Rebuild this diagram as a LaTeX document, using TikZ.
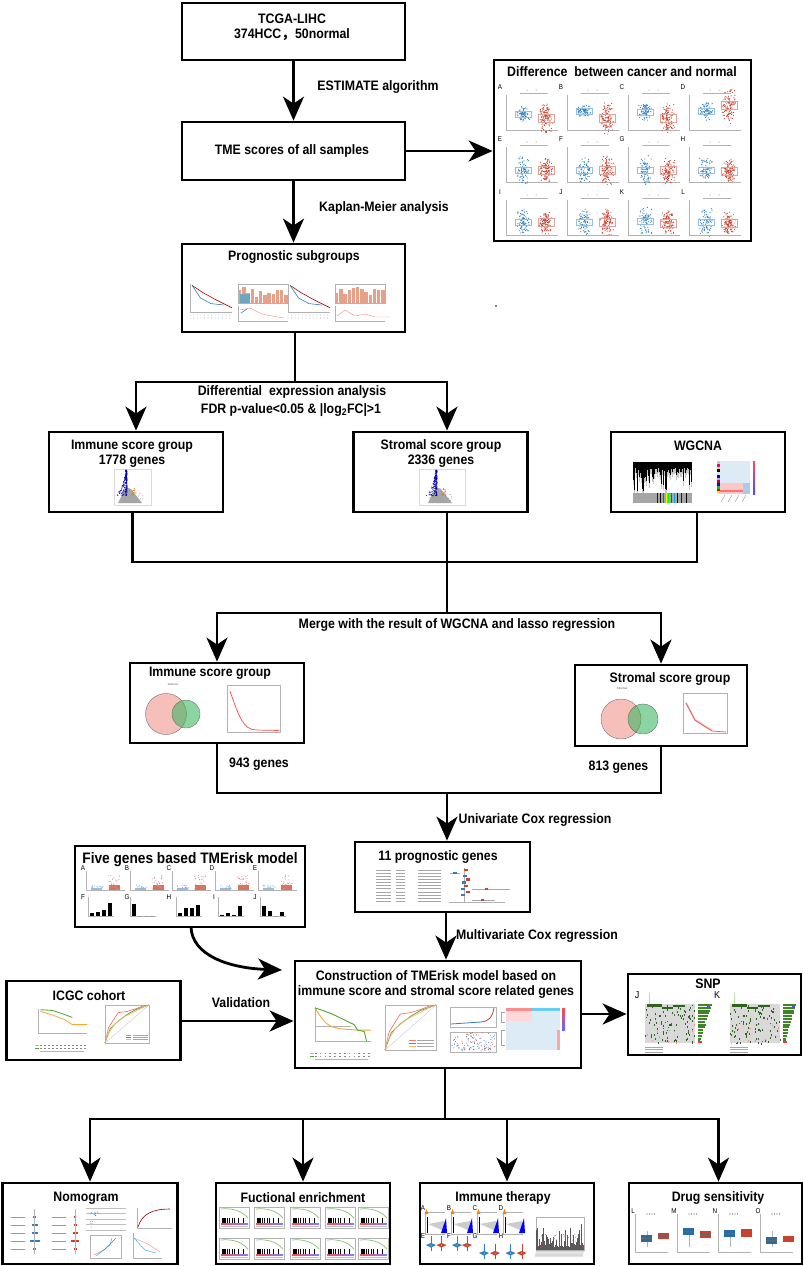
\documentclass[tikz,border=0pt]{standalone}
\usepackage{fontspec}
\setmainfont{Liberation Sans}[FakeStretch=.9]
\newfontfamily\cjkfont{Noto Sans CJK SC}
\usetikzlibrary{arrows.meta}
\definecolor{plotblue}{HTML}{2F7FC1}
\definecolor{plotred}{HTML}{C8432F}
\definecolor{kmgreen}{HTML}{4EA72E}
\definecolor{kmorange}{HTML}{F2A93B}
\definecolor{vennpink}{HTML}{F08C80}
\definecolor{venngreen}{HTML}{2FB457}
\definecolor{heatblue}{HTML}{DDEBF7}
\definecolor{heatmid}{HTML}{A9CCEB}
\tikzset{
flowbox/.style={draw, line width=2.8pt, fill=white, inner sep=0pt}, % every framed box
titletext/.style={font=\bfseries\fontsize{13.7}{14}\selectfont, inner sep=0pt, align=center},
paneltext/.style={font=\fontsize{7}{7}\selectfont, inner sep=0pt},
bigpaneltext/.style={font=\fontsize{10}{10}\selectfont, inner sep=0pt},
tinytext/.style={font=\bfseries\fontsize{3}{3}\selectfont, inner sep=0pt, text=gray},
plainline/.style={line width=2.8pt},
flowline/.style={line width=2.8pt, -{Stealth[length=24pt,width=21pt,inset=7pt]}},
axisline/.style={draw=gray!60, line width=.3pt},
}
%% small clouds of points, x and y spread around a centre
\newcommand{\dotcloud}[6]{\foreach \k in {1,...,#5}{\fill[#6] ({#1+#3*rand},{#2+#4*rand}) circle (.5);}}
%% denser towards the centre, for the scatter panels
\newcommand{\densecloud}[6]{\foreach \k in {1,...,#5}{\fill[#6] ({#1+#3*(rand+rand)*.6},{#2+#4*(rand+rand)*.6}) circle (.6);}}
%% one scatter and box panel of the cancer/normal figure
\newcommand{\scatterpanel}[6]{
    \draw[axisline] (#1+6,#2+8) |- (#1+58,#2+43);
    \draw[axisline] (#1+20,#2+6) -- (#1+48,#2+6);
    \fill[plotblue] (#1+27,#2+3) circle (.5);
    \fill[plotred] (#1+36,#2+3) circle (.5);
    \densecloud{#1+23}{#2+#3}{6}{#4}{80}{plotblue}
    \densecloud{#1+46}{#2+#5}{6}{#6}{110}{plotred}
    \draw[plotblue!50, line width=.3pt] (#1+15,#2+#3-3) rectangle (#1+31,#2+#3+3);
    \draw[plotred!50, line width=.3pt] (#1+38,#2+#5-4) rectangle (#1+54,#2+#5+4);
}
%% volcano plot
\newcommand{\volcano}[2]{
    \fill[gray!70] (#1+10,#2+18) -- (#1+15,#2+20) -- (#1+26,#2+34) -- (#1+2,#2+34) -- cycle;
    \dotcloud{#1+15}{#2+29}{12}{5}{40}{gray!70}
    \dotcloud{#1+18}{#2+23}{2}{4}{14}{orange!80!red}
    \foreach \k in {1,...,190}{
        \pgfmathsetmacro\tt{rnd}
        \pgfmathsetmacro\uu{rnd}
        \fill[blue!70!black] ({#1+11-1.5*\uu-10*\tt*\tt*\uu*\uu},{#2+1+26*\tt}) circle (.5);
    }
}
%% Kaplan-Meier curves in a unit square
\newcommand{\kmplot}[4]{
    \begin{scope}[shift={(#1,#2)}, xscale=#3, yscale=#4]
        \draw[axisline] (0,0) |- (1,1);
        \draw[axisline] (0,.55) -- (.65,.55);
        \draw[kmorange, line width=.9pt] (0,.03) -- (.1,.28) -- (.2,.48) -- (.3,.58) -- (.45,.64) -- (.6,.66) -- (.8,.68) -- (1,.68);
        \draw[kmgreen, line width=.9pt] (0,.03) -- (.1,.08) -- (.3,.2) -- (.45,.32) -- (.6,.44) -- (.7,.52) -- (.76,.68) -- (.88,.72) -- (.92,1);
    \end{scope}
}
%% the same, for the validation cohort
\newcommand{\kmplotflat}[4]{
    \begin{scope}[shift={(#1,#2)}, xscale=#3, yscale=#4]
        \draw[axisline] (0,0) |- (1,1);
        \draw[kmgreen, line width=.8pt] (.05,.03) -- (.3,.06) -- (.5,.2) -- (.7,.35);
        \draw[kmorange, line width=.8pt] (.05,.1) -- (.3,.25) -- (.55,.45) -- (.7,.65) -- (1,.65);
    \end{scope}
}
%% risk table under a survival plot
\newcommand{\risktable}[3]{
    \foreach \k in {0,...,11}{
        \fill[gray!90] (#1+\k*#3/11,#2) rectangle ++(1.6,1.4);
        \fill[gray!90] (#1+\k*#3/11,#2+3) rectangle ++(1.6,1.4);
    }
    \fill[kmorange] (#1-5,#2) rectangle ++(4,1.2);
    \fill[kmgreen] (#1-5,#2+3) rectangle ++(4,1.2);
    \draw[axisline] (#1,#2+6) -- (#1+#3,#2+6);
}
%% ROC curves in a unit square
\newcommand{\rocplot}[4]{
    \begin{scope}[shift={(#1,#2)}, xscale=#3, yscale=#4]
        \draw[axisline] (0,0) rectangle (1,1);
        \draw[gray!50, line width=.3pt] (0,1) -- (1,0);
        \draw[red!55, line width=.7pt] (0,1) -- (.08,.6) -- (.2,.38) -- (.3,.2) -- (.5,.17) -- (.7,.1) -- (.85,.03) -- (1,0);
        \draw[kmgreen, line width=.7pt] (0,1) -- (.12,.62) -- (.3,.42) -- (.5,.25) -- (.7,.12) -- (1,0);
        \draw[kmorange!80, line width=.7pt] (0,1) -- (.05,.8) -- (.22,.5) -- (.45,.3) -- (.6,.22) -- (.85,.07) -- (1,0);
        \draw[red!55, line width=.4pt] (.48,.79) -- (.6,.79);
        \draw[kmgreen, line width=.4pt] (.48,.85) -- (.6,.85);
        \draw[kmorange!80, line width=.4pt] (.48,.91) -- (.6,.91);
        \foreach \ly in {.79,.85,.91}{\draw[gray!70, line width=.3pt] (.63,\ly) -- (.97,\ly);}
    \end{scope}
}
%% one GSEA panel
\newcommand{\gseaplot}[2]{
    \draw[axisline] (#1,#2) rectangle (#1+30,#2+21);
    \draw[kmgreen!70, line width=.7pt] (#1+2,#2+2) .. controls (#1+12,#2+1) and (#1+22,#2+3) .. (#1+29,#2+11);
    \foreach \k in {3,4,5,6,8,10,13,15,19,24}{\draw[black, line width=.3pt] (#1+\k,#2+11) -- (#1+\k,#2+16);}
    \shade[left color=red!70, right color=blue!50] (#1+2,#2+16) rectangle (#1+29,#2+17.2);
    \draw[gray!50, line width=.2pt] (#1+2,#2+19) -- (#1+29,#2+19);
}
%% one running-score panel of the immune therapy figure
\newcommand{\therapyplot}[1]{
    \draw[axisline] (#1+22,1212) -- (#1+2,1212) |- (#1+22,1234);
    \fill[orange] (#1+3.5,1209) -- (#1+5.5,1214) -- (#1+1.5,1214) -- cycle;
    \fill[gray!40] (#1+5,1224) -- (#1+21,1221) -- (#1+21,1231) -- cycle;
    \fill[blue] (#1+23,1218) -- (#1+24,1233) -- (#1+18,1233) -- cycle;
    \draw[black, line width=.8pt] (#1+4,1217) -- (#1+4,1233);
}
%% one violin of the immune therapy figure
\newcommand{\violin}[3]{
    \draw[#3, line width=.4pt] (#1,#2-9) -- (#1,#2+6);
    \fill[#3] (#1-5,#2) -- (#1,#2-2) -- (#1+5,#2) -- (#1,#2+2.5) -- cycle;
    \fill[white] (#1,#2) circle (.5);
}
%% one pair of boxes of the drug sensitivity figure
\newcommand{\boxpair}[6]{
    \draw[axisline] (#1-6,#2-24) |- (#1+27,#2+14);
    \draw[axisline] (#1+6,#2-7) -- (#1+6,#2+9);
    \foreach \n in {0,...,3}{\fill[gray!70!black] (#1+6+\n*2.5,1214) circle (.6);}
    \fill[plotblue!85!black] (#1,#3) rectangle (#1+11,#3+7);
    \fill[plotred] (#1+#5,#4) rectangle (#1+#5+11,#4+#6);
    \draw[black!60, line width=.4pt] (#1,#3+3.5) -- (#1+11,#3+3.5);
    \draw[black!60, line width=.4pt] (#1+#5,#4+#6/2) -- (#1+#5+11,#4+#6/2);
}
%% one oncoplot with its side and top bars
\newcommand{\oncoplot}[3]{
    \fill[gray!30] (#1,#2) rectangle (#1+#3,#2+39);
    \draw[kmgreen!40, line width=.8pt] (#1+4,#2) -- (#1+4,#2-11);
    \fill[kmgreen!60!black] (#1+2,#2) rectangle (#1+#3/3,#2+2.5);
    \fill[kmgreen!60!black] (#1+#3/3,#2+3) rectangle (#1+#3*.55,#2+5);
    \fill[kmgreen!60!black] (#1+#3*.55,#2+1) rectangle (#1+#3*.8,#2+2.5);
    \foreach \k in {1,...,75}{\fill[kmgreen!60!black] ({#1+#3*rnd},{#2+39*rnd}) rectangle ++(.9,2);}
    \foreach \k in {1,...,16}{\fill[black!65] ({#1+#3*rnd},{#2+39*rnd}) rectangle ++(.8,1.6);}
    \foreach \k in {1,...,10}{\fill[red!45] ({#1+#3*rnd},{#2+20+19*rnd}) rectangle ++(.9,1.6);}
    \foreach \k in {0,...,13}{
        \pgfmathsetmacro\barlen{14-\k*.8-rnd*2}
        \fill[kmgreen!80!black] (#1+#3+3,#2+\k*2.8) rectangle ++(\barlen,2);
    }
    \fill[blue!70] (#1+#3+12,#2+2) rectangle ++(3,2);
    \fill[red!80] (#1+#3+3,#2+37) rectangle ++(4,2);
    \foreach \n in {0,1,2}{\draw[gray!70, line width=.5pt] (#1,#2+43+\n*2.5) -- (#1+#3*.35,#2+43+\n*2.5);}
}

\begin{document}
\begin{tikzpicture}[x=1pt, y=-1pt]
    \useasboundingbox (0,0) rectangle (803,1266);
    \pgfmathsetseed{11}

    %% The boxes. Corners were read off the reference, so every node sits at its centre.
    \node[flowbox, minimum width=223, minimum height=57] (tcga) at (293.5,31.5) {};
    \node[flowbox, minimum width=223, minimum height=58] (tme) at (293.5,151) {};
    \node[flowbox, minimum width=223, minimum height=88] (prog) at (293.5,288) {};
    \node[flowbox, minimum width=257, minimum height=181] (diff) at (622.5,150.5) {};
    \node[flowbox, minimum width=174, minimum height=80] (immune) at (136,472) {};
    \node[flowbox, minimum width=174, minimum height=80] (stromal) at (440.5,472) {};
    \node[flowbox, minimum width=174, minimum height=80] (wgcna) at (698,472) {};
    \node[flowbox, minimum width=174, minimum height=80] (immunesel) at (217,703) {};
    \node[flowbox, minimum width=172, minimum height=81] (stromalsel) at (661,705.5) {};
    \node[flowbox, minimum width=175, minimum height=70] (genes) at (442.5,877) {};
    \node[flowbox, minimum width=230, minimum height=81] (five) at (190,886.5) {};
    \node[flowbox, minimum width=286, minimum height=107] (construct) at (438,1014.5) {};
    \node[flowbox, minimum width=174, minimum height=79] (icgc) at (93.5,1020.5) {};
    \node[flowbox, minimum width=173, minimum height=81] (snp) at (714.5,1014.5) {};
    \node[flowbox, minimum width=175, minimum height=81] (nomo) at (90,1223.5) {};
    \node[flowbox, minimum width=174, minimum height=81] (func) at (303,1223.5) {};
    \node[flowbox, minimum width=174, minimum height=81] (therapy) at (507,1223.5) {};
    \node[flowbox, minimum width=173, minimum height=81] (drug) at (715.5,1223.5) {};

    %% The connectors. Bends and free ends are named coordinates.
    \coordinate (splitA) at (295,382);
    \coordinate (splitR) at (447,382);
    \coordinate (mergeL) at (132.5,562);
    \coordinate (mergeM) at (447,562);
    \coordinate (mergeR) at (697,562);
    \coordinate (splitB) at (447,613);
    \coordinate (joinC) at (447,793);
    \coordinate (coxline) at (446,936);
    \coordinate (curveS) at (191,927);
    \coordinate (curveE) at (282,970);
    \coordinate (validline) at (240,1021);
    \coordinate (snpline) at (600,1014);
    \coordinate (treeT) at (445,1119);
    \coordinate (treeD) at (718.5,1119);

    \draw[flowline] (tcga) -- (tme);
    \draw[flowline] (tme) -- (prog);
    \draw[flowline] (tme) -- (diff.west |- tme);
    \draw[plainline] (prog.south -| splitA) -- (splitA);
    \draw[flowline] (splitA) -| (immune.north);
    \draw[flowline] (splitA) -- (splitR) -- (stromal.north -| splitR);
    \draw[plainline] (immune.south -| mergeL) -- (mergeL) -- (mergeR) -- (wgcna.south -| mergeR);
    \draw[plainline] (stromal.south -| mergeM) -- (splitB);
    \draw[flowline] (splitB) -| (immunesel.north);
    \draw[flowline] (splitB) -| (stromalsel.north);
    \draw[plainline] (immunesel.south) |- (joinC) -| (stromalsel.south);
    \draw[flowline] (joinC) -- (genes.north -| joinC);
    \draw[flowline] (genes.south -| coxline) -- (construct.north -| coxline);
    \draw[flowline] (curveS) .. controls (192,955) and (228,968) .. (curveE);
    \draw[flowline] (icgc.east |- validline) -- (construct.west |- validline);
    \draw[flowline] (construct.east |- snpline) -- (snp.west |- snpline);
    \draw[plainline] (construct.south -| treeT) -- (treeT);
    \draw[flowline] (treeT) -| (nomo.north);
    \draw[flowline] (treeT) -| (func.north);
    \draw[flowline] (treeT) -| (therapy.north);
    \draw[flowline] (treeT) -- (treeD) -- (drug.north -| treeD);

    %% The texts
    \node[titletext] (tcgatitle) at (292,27.5) {TCGA-LIHC\\[1pt]374HCC{\cjkfont ，}50normal};
    \node[titletext] (estimatelabel) at (378,87) {ESTIMATE algorithm};
    \node[titletext] (tmetitle) at (292,151) {TME scores of all samples};
    \node[titletext] (kmlabel) at (384,208) {Kaplan-Meier analysis};
    \node[titletext] (progtitle) at (294,257) {Prognostic subgroups};
    \node[titletext] (difftitle) at (622,72) {Difference\ \ between cancer and normal};
    \node[titletext] (deglabel) at (292,392) {Differential\ \ expression analysis};
    \node[titletext] (fdrlabel) at (291,410) {FDR p-value<0.05 \& |log\textsubscript{2}FC|>1};
    \node[titletext] (immunetitle) at (132,453.5) {Immune score group\\[1pt]1778 genes};
    \node[titletext] (stromaltitle) at (441,453.5) {Stromal score group\\[1pt]2336 genes};
    \node[titletext] (wgcnatitle) at (698,446) {WGCNA};
    \node[titletext] (mergelabel) at (457,625) {Merge with the result of WGCNA and lasso regression};
    \node[titletext] (immuneseltitle) at (210,673) {Immune score group};
    \node[titletext] (stromalseltitle) at (670,679) {Stromal score group};
    \node[titletext] (immunecount) at (259,764) {943 genes};
    \node[titletext] (stromalcount) at (618.5,767) {813 genes};
    \node[titletext] (unilabel) at (535,820) {Univariate Cox regression};
    \node[titletext, font=\bfseries\fontsize{15.2}{16}\selectfont] (fivetitle) at (190,860) {Five genes based TMErisk model};
    \node[titletext] (genestitle) at (438,857) {11 prognostic genes};
    \node[titletext] (multilabel) at (537,936) {Multivariate Cox regression};
    \node[titletext] (constructtitle) at (436,984.5) {Construction of TMErisk model based on\\[1pt]immune score and stromal score related genes};
    \node[titletext] (icgctitle) at (89,996) {ICGC cohort};
    \node[titletext] (validlabel) at (241,1003) {Validation};
    \node[titletext] (snptitle) at (708,984) {SNP};
    \node[titletext] (nomotitle) at (86,1198) {Nomogram};
    \node[titletext] (functitle) at (303,1198) {Fuctional enrichment};
    \node[titletext] (therapytitle) at (503,1198) {Immune therapy};
    \node[titletext] (drugtitle) at (718,1198) {Drug sensitivity};
    \fill (496,306) circle (.9);

    %% Prognostic subgroups: two survival plots with their bar and line panels
    \foreach \px/\bx in {190/238, 288/335}{
        \begin{scope}[shift={(\px,284)}, xscale=42, yscale=28]
            \draw[axisline] (0,0) |- (1,1);
            \draw[red!70!black, line width=.6pt] (.05,.05) -- (.3,.3) -- (.6,.55) -- (1,.85);
            \draw[plotblue, line width=.6pt] (.05,.05) -- (.25,.5) -- (.5,.7) -- (.8,.75);
        \end{scope}
        \foreach \k in {0,...,11}{
            \fill[gray!60] (\px+\k*3.6,315) circle (.5);
            \fill[plotblue!60] (\px+\k*3.6,318) circle (.5);
            \pgfmathsetmacro\barh{6+rnd*11}
            \fill[red!35!brown!55] (\bx+\k*4.2,303) rectangle ++(3.4,-\barh);
        }
        \draw[axisline] (\bx,284) rectangle (\bx+50,303);
        \draw[axisline] (\bx,306) |- (\bx+50,321);
    }
    \draw[red!50, line width=.4pt] (240,310) -- (250,308) -- (262,314) -- (272,316) -- (284,318);
    \draw[cyan!60!blue, line width=.5pt] (241,313) -- (247,309);
    \draw[red!50, line width=.4pt] (337,316) -- (345,310) -- (355,316) -- (365,314) -- (375,317) -- (390,317);
    \fill[cyan!60!black!70] (240,303) rectangle (250,294);

    %% Difference between cancer and normal: 4 x 3 scatter panels
    \foreach \L/\px/\a/\b/\c/\d in {A/500/27/7/31/13, B/561/24/5/31/15, C/622/25/8/31/13, D/683/24/8/18/17}{
        \node[paneltext] (diff\L) at (\px,87) {\L};
        \scatterpanel{\px}{87}{\a}{\b}{\c}{\d}
    }
    \foreach \L/\px/\a/\b/\c/\d in {E/500/31/13/31/11, F/561/31/12/31/13, G/622/31/13/31/12, H/683/31/13/32/11}{
        \node[paneltext] (diff\L) at (\px,139) {\L};
        \scatterpanel{\px}{139}{\a}{\b}{\c}{\d}
    }
    \foreach \L/\px/\a/\b/\c/\d in {I/500/30/13/30/11, J/561/30/12/30/13, K/622/29/13/31/12, L/683/30/13/31/11}{
        \node[paneltext] (diff\L) at (\px,192) {\L};
        \scatterpanel{\px}{192}{\a}{\b}{\c}{\d}
    }

    %% Volcano plots
    \draw[gray!30, line width=.3pt] (114,469) rectangle (151,505);
    \volcano{116}{469}
    \draw[gray!30, line width=.3pt] (419,469) rectangle (465,505);
    \volcano{426}{469}

    %% WGCNA: dendrogram, module colours and heatmap
    \foreach \k in {0,...,58}{
        \pgfmathsetmacro\drop{6+rnd*rnd*24}
        \draw[gray!45, line width=.9pt] (633+\k,462) -- ++(0,{\drop+5});
        \draw[black, line width=.9pt] (633+\k,462) -- ++(0,\drop);
    }
    \fill[gray!70] (633,493) rectangle (692,503);
    \foreach \sx/\sc in {657/blue, 660/black, 663/magenta, 666/yellow, 668/green, 671/red, 674/cyan, 677/black, 681/blue, 686/black}{
        \fill[\sc] (\sx,493) rectangle ++(1.4,10);
    }
    \foreach \r/\rc in {0/gray!40, 1/magenta, 2/yellow, 3/black, 4/gray!20, 5/blue, 6/gray!60, 7/purple, 8/blue, 9/green!80!black, 10/red, 11/yellow}{
        \fill[\rc] (717,461+\r*2.75) rectangle ++(2.5,2.75);
    }
    \fill[heatblue] (720,461) rectangle (750,483);
    \fill[red!22] (720,483) rectangle (750,494);
    \fill[red!55] (720,489.5) rectangle (750,492);
    \fill[heatmid] (743,483) rectangle (750,494);
    \shade[top color=red!70, middle color=white, bottom color=blue!70] (753,461) rectangle (755,494);
    \foreach \k in {0,...,3}{\draw[gray, line width=.3pt] (725+\k*7,495) -- ++(-4,7);}

    %% Venn diagrams with the lasso curves. Low opacity so that the overlap shows.
    \begin{scope}[fill opacity=.55]
        \draw[fill=vennpink, draw=gray!70!black, line width=.3pt] (166,714) circle (20.5);
        \draw[fill=venngreen, draw=gray!70!black, line width=.3pt] (186,714) circle (14);
        \draw[fill=vennpink, draw=gray!70!black, line width=.3pt] (621,719) circle (20);
        \draw[fill=venngreen, draw=gray!70!black, line width=.3pt] (643,719) circle (15);
    \end{scope}
    \node[tinytext] (vennimmune) at (173,684) {Immune};
    \node[tinytext] (vennstromal) at (622,688) {Stromal};
    \draw[axisline] (227,685) rectangle (280,732);
    \draw[red!70, line width=.7pt] (230,691) .. controls (238,714) and (243,730) .. (256,730) -- (279,730.5);
    \draw[axisline] (683,693) rectangle (727,733);
    \draw[gray!30, line width=2pt] (686,703) -- (695,720) -- (712,730);
    \draw[red!70, line width=.7pt] (686,703) -- (695,720) -- (704,726) -- (712,731) -- (726,732);

    %% Five genes: expression dots and bars
    \foreach \L/\px in {A/83, B/127, C/169, D/212, E/255}{
        \node[paneltext] (five\L) at (\px,868) {\L};
        \draw[axisline] (\px+3,871) |- (\px+42,890);
        \fill[plotblue!50] (\px+8,888) rectangle (\px+19,889.5);
        \dotcloud{\px+14}{887}{6}{2}{16}{plotblue!60}
        \fill[plotred!75] (\px+26,885) rectangle (\px+37,889.5);
        \dotcloud{\px+31}{882}{6}{7}{30}{plotred!60}
    }
    \foreach \L/\tx/\px/\a/\b/\c/\d in {F/83/90/3/4/6/13, G/127/132/12/0/0/0, H/169/178/3/8/8/11, I/214/220/1/3/1/10, J/255/262/10/5/0/4}{
        \node[paneltext] (five\L) at (\tx,897) {\L};
        \draw[axisline] (\px-2,897) |- (\px+24,916);
        \foreach \n/\hgt in {0/\a, 1/\b, 2/\c, 3/\d}{\fill[black] (\px+\n*6,916) rectangle ++(3.6,-\hgt);}
    }

    %% Forest plot of the 11 genes
    \foreach \r in {0,...,10}{
        \draw[gray!70, line width=.4pt] (376,870+\r*3.1) -- ++(15,0);
        \draw[gray!70, line width=.4pt] (396,870+\r*3.1) -- ++(9,0);
        \draw[gray!70, line width=.4pt] (418,870+\r*3.1) -- ++(23,0);
    }
    \draw[axisline] (449,902) -- (505,902);
    \draw[axisline] (464,868) -- (464,902);
    \foreach \r/\cx/\hw/\cc in {0/466/1/plotred, 1/455/5/plotblue, 2/465/1/plotblue, 3/468/2/plotred, 4/464/1/plotblue, 5/466/1/plotred, 6/463/1/plotblue, 7/468/2/plotred, 8/463/1/plotblue}{
        \draw[gray!70, line width=.4pt] (\cx-\hw,870+\r*3.1) -- (\cx+\hw,870+\r*3.1);
        \fill[\cc] (\cx-1.6,869+\r*3.1) rectangle ++(3.2,2.2);
    }
    \draw[gray!70, line width=.4pt] (472,889) -- (510,889);
    \fill[plotred] (484.5,888) rectangle ++(3,2.2);
    \draw[gray!70, line width=.4pt] (472,900) -- (495,900);
    \fill[plotred] (480.5,899) rectangle ++(3,2.2);

    %% ICGC cohort
    \kmplotflat{38}{1009}{49}{24}
    \risktable{40}{1045}{44}
    \rocplot{105}{1005}{44}{38}

    %% TMErisk model: survival, ROC, risk curve and heatmap
    \kmplot{315}{1007}{56}{34}
    \risktable{315}{1053}{53}
    \rocplot{385}{1005}{51}{45}
    \draw[axisline] (450,1007) rectangle (496,1027);
    \draw[plotblue, line width=.8pt] (451,1024) -- (481,1022);
    \draw[plotred, line width=.8pt] (481,1022) .. controls (489,1021) and (492,1018) .. (494,1008);
    \draw[axisline] (450,1032) rectangle (496,1052);
    \dotcloud{473}{1043}{22}{8}{75}{plotblue}
    \dotcloud{476}{1041}{20}{9}{35}{plotred}
    \fill[heatblue] (506,1008) rectangle (560,1050);
    \fill[red!45] (506,1008) rectangle (532,1011);
    \fill[cyan!60] (532,1008) rectangle (560,1011);
    \fill[red!15] (506,1011) rectangle (532,1021);
    \fill[red!35] (557,1030) rectangle (560,1050);
    \draw[gray!70, line width=.3pt] (505,1012) -| (501,1022) -- (505,1022);
    \draw[gray!70, line width=.3pt] (505,1030) -| (501,1045) -- (505,1045);
    \shade[top color=red!70, middle color=white, bottom color=blue!60] (562,1008) rectangle (565,1030);

    %% SNP
    \node[bigpaneltext] (snpJ) at (637,995) {J};
    \node[bigpaneltext] (snpK) at (717,995) {K};
    \oncoplot{645}{1004}{50}
    \oncoplot{730}{1004}{50}

    %% Nomogram panels
    \foreach \r/\wa/\wb in {0/1.5/1, 1/3/1.5, 2/3/2.5, 3/5/4, 4/1.5/1.5}{
        \draw[gray!80, line width=.4pt] (11,1217+\r*8) -- ++(14,0);
        \draw[gray!80, line width=.4pt] (52,1217+\r*8) -- ++(14,0);
        \fill[plotblue] (34.5-\wa,1216+\r*8) rectangle (34.5+\wa,1218.2+\r*8);
        \fill[plotred] (75-\wb,1216+\r*8) rectangle (75+\wb,1218.2+\r*8);
    }
    \draw[axisline] (34.5,1209) -- (34.5,1254);
    \draw[axisline] (75,1209) -- (75,1254);
    \foreach \r in {0,...,4}{\draw[gray!50, line width=.25pt] (86,1208+\r*5.5) -- (126,1208+\r*5.5);}
    \dotcloud{96}{1214}{5}{2}{9}{cyan!60!blue}
    \dotcloud{92}{1225}{2}{4}{5}{red!60}
    \draw[axisline] (137,1208) |- (172,1228);
    \draw[red!60!black, line width=.6pt] (138,1227) .. controls (142,1214) and (152,1209) .. (170,1209);
    \draw[axisline] (90,1235) rectangle (121,1258);
    \draw[red!70, line width=.4pt] (94,1255) -- (104,1250) -- (116,1238);
    \draw[cyan, line width=.4pt] (96,1256) -- (110,1245) -- (112,1238);
    \draw[axisline] (133,1233) |- (162,1258);
    \draw[cyan, line width=.4pt] (134,1238) -- (145,1250) -- (156,1253);
    \draw[red!50, line width=.4pt] (134,1238) -- (148,1244) -- (160,1252);

    %% Functional enrichment panels
    \foreach \px in {219, 254, 290, 325, 358}{
        \gseaplot{\px}{1207}
        \gseaplot{\px}{1238}
    }

    %% Immune therapy panels
    \foreach \L/\px in {A/423, B/449, C/475, D/501}{
        \node[paneltext] (therapy\L) at (\px,1208) {\L};
        \therapyplot{\px}
    }
    \foreach \L/\px in {E/423, F/449, G/475, H/501}{
        \node[paneltext] (therapy\L) at (\px,1236) {\L};
    }
    \violin{431}{1245}{plotblue}
    \violin{441.5}{1245}{plotred}
    \violin{457}{1245}{plotblue}
    \violin{467}{1245}{plotred}
    \violin{484}{1253}{plotblue}
    \violin{495}{1253}{plotred}
    \violin{510.5}{1253}{plotblue}
    \violin{521.7}{1253}{plotred}
    \draw[axisline] (536,1217) rectangle (584,1250);
    \foreach \k in {0,...,47}{
        \pgfmathsetmacro\spike{3+rnd*rnd*26}
        \draw[black!65, line width=.35pt] (536.5+\k,1250) -- ++(0,-\spike);
        \draw[gray!60, line width=.3pt] (536.5+\k,1251) -- ++(-1.5,6);
    }
    \dotcloud{560}{1241}{23}{7}{30}{purple!70}

    %% Drug sensitivity panels
    \foreach \L/\tx in {L/633, M/674, N/715, O/758}{
        \node[paneltext] (drug\L) at (\tx,1211) {\L};
    }
    \boxpair{641}{1238}{1235}{1233}{17}{6}
    \boxpair{683}{1238}{1228}{1231}{17}{7}
    \boxpair{724}{1238}{1230}{1229}{17}{8}
    \boxpair{766}{1238}{1237}{1236}{17}{6}
\end{tikzpicture}
\end{document}
